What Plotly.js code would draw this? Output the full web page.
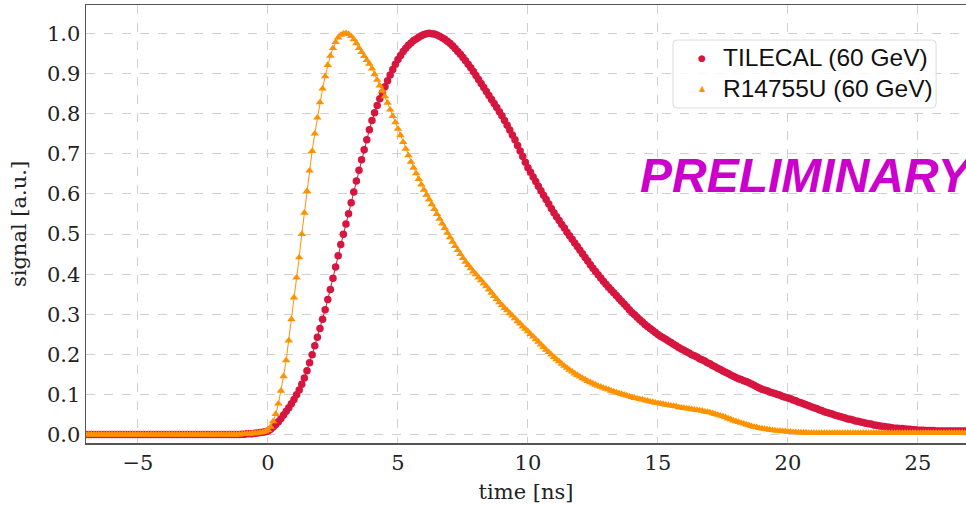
<!DOCTYPE html>
<html>
<head>
<meta charset="utf-8">
<script src="https://cdn.plot.ly/plotly-3.0.1.min.js"></script>
<style>
html,body{margin:0;padding:0;background:#fff;}
#chart{width:966px;height:505px;}
</style>
</head>
<body>
<div id="chart"></div>
<script>
// sampling times [ns]
const time = [
-7.0,-6.9,-6.8,-6.7,-6.6,-6.5,-6.4,-6.3,-6.2,-6.1,
-6.0,-5.9,-5.8,-5.7,-5.6,-5.5,-5.4,-5.3,-5.2,-5.1,
-5.0,-4.9,-4.8,-4.7,-4.6,-4.5,-4.4,-4.3,-4.2,-4.1,
-4.0,-3.9,-3.8,-3.7,-3.6,-3.5,-3.4,-3.3,-3.2,-3.1,
-3.0,-2.9,-2.8,-2.7,-2.6,-2.5,-2.4,-2.3,-2.2,-2.1,
-2.0,-1.9,-1.8,-1.7,-1.6,-1.5,-1.4,-1.3,-1.2,-1.1,
-1.0,-0.9,-0.8,-0.7,-0.6,-0.5,-0.4,-0.3,-0.2,-0.1,
0.0,0.1,0.2,0.3,0.4,0.5,0.6,0.7,0.8,0.9,
1.0,1.1,1.2,1.3,1.4,1.5,1.6,1.7,1.8,1.9,
2.0,2.1,2.2,2.3,2.4,2.5,2.6,2.7,2.8,2.9,
3.0,3.1,3.2,3.3,3.4,3.5,3.6,3.7,3.8,3.9,
4.0,4.1,4.2,4.3,4.4,4.5,4.6,4.7,4.8,4.9,
5.0,5.1,5.2,5.3,5.4,5.5,5.6,5.7,5.8,5.9,
6.0,6.1,6.2,6.3,6.4,6.5,6.6,6.7,6.8,6.9,
7.0,7.1,7.2,7.3,7.4,7.5,7.6,7.7,7.8,7.9,
8.0,8.1,8.2,8.3,8.4,8.5,8.6,8.7,8.8,8.9,
9.0,9.1,9.2,9.3,9.4,9.5,9.6,9.7,9.8,9.9,
10.0,10.1,10.2,10.3,10.4,10.5,10.6,10.7,10.8,10.9,
11.0,11.1,11.2,11.3,11.4,11.5,11.6,11.7,11.8,11.9,
12.0,12.1,12.2,12.3,12.4,12.5,12.6,12.7,12.8,12.9,
13.0,13.1,13.2,13.3,13.4,13.5,13.6,13.7,13.8,13.9,
14.0,14.1,14.2,14.3,14.4,14.5,14.6,14.7,14.8,14.9,
15.0,15.1,15.2,15.3,15.4,15.5,15.6,15.7,15.8,15.9,
16.0,16.1,16.2,16.3,16.4,16.5,16.6,16.7,16.8,16.9,
17.0,17.1,17.2,17.3,17.4,17.5,17.6,17.7,17.8,17.9,
18.0,18.1,18.2,18.3,18.4,18.5,18.6,18.7,18.8,18.9,
19.0,19.1,19.2,19.3,19.4,19.5,19.6,19.7,19.8,19.9,
20.0,20.1,20.2,20.3,20.4,20.5,20.6,20.7,20.8,20.9,
21.0,21.1,21.2,21.3,21.4,21.5,21.6,21.7,21.8,21.9,
22.0,22.1,22.2,22.3,22.4,22.5,22.6,22.7,22.8,22.9,
23.0,23.1,23.2,23.3,23.4,23.5,23.6,23.7,23.8,23.9,
24.0,24.1,24.2,24.3,24.4,24.5,24.6,24.7,24.8,24.9,
25.0,25.1,25.2,25.3,25.4,25.5,25.6,25.7,25.8,25.9,
26.0,26.1,26.2,26.3,26.4,26.5,26.6,26.7,26.8,26.9,
27.0
];

// TILECAL (60 GeV) normalised signal
const tilecal = [
0.001,0.001,0.001,0.001,0.001,0.001,0.001,0.001,0.001,0.001,
0.001,0.001,0.001,0.001,0.001,0.001,0.001,0.001,0.001,0.001,
0.001,0.001,0.001,0.001,0.001,0.001,0.001,0.001,0.001,0.001,
0.001,0.001,0.001,0.001,0.001,0.001,0.001,0.001,0.001,0.001,
0.001,0.001,0.001,0.001,0.001,0.001,0.001,0.001,0.001,0.001,
0.001,0.001,0.001,0.001,0.001,0.001,0.001,0.001,0.001,0.001,
0.002,0.002,0.003,0.003,0.003,0.004,0.005,0.006,0.007,0.008,
0.01,0.014,0.02,0.026,0.033,0.041,0.05,0.059,0.068,0.078,
0.088,0.1,0.112,0.126,0.142,0.16,0.18,0.2,0.222,0.243,
0.265,0.288,0.312,0.337,0.362,0.39,0.418,0.446,0.474,0.5,
0.525,0.551,0.578,0.605,0.632,0.659,0.685,0.71,0.735,0.76,
0.783,0.802,0.82,0.837,0.852,0.867,0.882,0.896,0.91,0.923,
0.935,0.945,0.955,0.963,0.97,0.976,0.982,0.986,0.99,0.994,
0.997,0.999,1.0,0.999,0.998,0.996,0.993,0.989,0.985,0.98,
0.975,0.969,0.962,0.955,0.948,0.94,0.932,0.923,0.914,0.905,
0.895,0.885,0.875,0.865,0.855,0.845,0.835,0.825,0.815,0.805,
0.795,0.783,0.771,0.759,0.747,0.735,0.721,0.707,0.693,0.679,
0.665,0.654,0.642,0.631,0.619,0.608,0.597,0.586,0.575,0.564,
0.553,0.543,0.534,0.524,0.515,0.505,0.496,0.487,0.478,0.469,
0.46,0.451,0.442,0.433,0.424,0.415,0.407,0.399,0.391,0.383,
0.375,0.368,0.361,0.354,0.347,0.34,0.333,0.326,0.319,0.312,
0.305,0.299,0.293,0.287,0.281,0.275,0.27,0.265,0.26,0.255,
0.25,0.246,0.242,0.238,0.234,0.23,0.226,0.222,0.218,0.214,
0.211,0.207,0.204,0.2,0.197,0.194,0.19,0.187,0.184,0.18,
0.177,0.173,0.17,0.166,0.163,0.159,0.156,0.153,0.149,0.146,
0.143,0.14,0.138,0.135,0.133,0.13,0.127,0.124,0.12,0.117,
0.114,0.112,0.11,0.107,0.105,0.103,0.101,0.099,0.096,0.094,
0.092,0.09,0.087,0.085,0.082,0.08,0.078,0.075,0.073,0.07,
0.068,0.066,0.063,0.061,0.058,0.056,0.054,0.052,0.05,0.048,
0.046,0.044,0.042,0.04,0.039,0.037,0.035,0.034,0.032,0.031,
0.029,0.028,0.027,0.025,0.024,0.023,0.022,0.021,0.02,0.019,
0.018,0.017,0.017,0.016,0.016,0.015,0.014,0.014,0.013,0.013,
0.012,0.012,0.012,0.011,0.011,0.011,0.011,0.01,0.01,0.01,
0.01,0.01,0.01,0.01,0.01,0.01,0.01,0.01,0.01,0.01,
0.01
];

// R14755U (60 GeV) normalised signal
const r14755u = [
0.001,0.001,0.001,0.001,0.001,0.001,0.001,0.001,0.001,0.001,
0.001,0.001,0.001,0.001,0.001,0.001,0.001,0.001,0.001,0.001,
0.001,0.001,0.001,0.001,0.001,0.001,0.001,0.001,0.001,0.001,
0.001,0.001,0.001,0.001,0.001,0.001,0.001,0.001,0.001,0.001,
0.001,0.001,0.001,0.001,0.001,0.001,0.001,0.001,0.001,0.001,
0.001,0.001,0.001,0.001,0.001,0.001,0.001,0.001,0.001,0.001,
0.002,0.002,0.003,0.003,0.004,0.004,0.005,0.006,0.007,0.009,
0.012,0.02,0.034,0.052,0.078,0.11,0.146,0.186,0.235,0.288,
0.342,0.392,0.442,0.5,0.553,0.607,0.658,0.707,0.75,0.79,
0.828,0.862,0.893,0.921,0.944,0.963,0.978,0.989,0.996,0.999,
1.0,0.998,0.993,0.985,0.975,0.963,0.953,0.943,0.933,0.924,
0.912,0.898,0.884,0.87,0.857,0.843,0.827,0.81,0.794,0.778,
0.762,0.746,0.729,0.712,0.696,0.68,0.665,0.651,0.637,0.623,
0.61,0.598,0.586,0.574,0.562,0.55,0.538,0.526,0.515,0.503,
0.492,0.481,0.47,0.46,0.45,0.44,0.431,0.423,0.415,0.407,
0.4,0.392,0.385,0.377,0.37,0.362,0.354,0.346,0.338,0.33,
0.323,0.316,0.31,0.303,0.297,0.29,0.283,0.277,0.27,0.264,
0.258,0.251,0.245,0.238,0.232,0.225,0.219,0.212,0.206,0.2,
0.194,0.188,0.183,0.177,0.172,0.167,0.162,0.158,0.153,0.149,
0.145,0.141,0.138,0.134,0.131,0.128,0.125,0.122,0.12,0.117,
0.115,0.113,0.11,0.108,0.106,0.104,0.102,0.1,0.098,0.096,
0.094,0.092,0.091,0.089,0.088,0.086,0.085,0.083,0.082,0.08,
0.079,0.078,0.077,0.075,0.074,0.073,0.072,0.071,0.069,0.068,
0.067,0.066,0.065,0.064,0.063,0.062,0.061,0.06,0.058,0.057,
0.056,0.054,0.052,0.05,0.048,0.046,0.044,0.041,0.039,0.036,
0.034,0.032,0.03,0.028,0.026,0.024,0.022,0.02,0.019,0.017,
0.016,0.015,0.014,0.013,0.012,0.011,0.01,0.01,0.009,0.009,
0.008,0.008,0.007,0.007,0.006,0.006,0.006,0.006,0.005,0.005,
0.005,0.005,0.005,0.005,0.005,0.005,0.005,0.005,0.005,0.005,
0.005,0.005,0.005,0.005,0.005,0.005,0.005,0.005,0.005,0.005,
0.005,0.005,0.005,0.005,0.005,0.005,0.005,0.005,0.005,0.005,
0.005,0.005,0.005,0.005,0.005,0.005,0.005,0.005,0.005,0.005,
0.005,0.005,0.005,0.005,0.005,0.005,0.005,0.005,0.005,0.005,
0.005,0.005,0.005,0.005,0.005,0.005,0.005,0.005,0.005,0.005,
0.005
];

const seriesNames = ['TILECAL (60 GeV)', 'R14755U (60 GeV)'];
const xTicks = [-5, 0, 5, 10, 15, 20, 25];
const yTicks = [0.0, 0.1, 0.2, 0.3, 0.4, 0.5, 0.6, 0.7, 0.8, 0.9, 1.0];
const watermark = 'PRELIMINARY';

const RED = '#d6163f';
const ORANGE = '#ff9200';

const traces = [
  {x: time, y: tilecal, type: 'scatter', mode: 'lines+markers', name: seriesNames[0], showlegend: false,
   line: {color: RED, width: 1}, marker: {color: RED, size: 7.5, symbol: 'circle'}},
  {x: time, y: r14755u, type: 'scatter', mode: 'lines+markers', name: seriesNames[1], showlegend: false,
   line: {color: ORANGE, width: 1}, marker: {color: ORANGE, size: 7.5, symbol: 'triangle-up'}}
];

// legend box (paper coordinates), drawn as a rounded rectangle
const lx0 = 0.667, lx1 = 0.966, ly0 = 0.765, ly1 = 0.920;
const rx = 4 / 880, ry = 4 / 438;
const legendPath =
  'M ' + (lx0 + rx) + ',' + ly1 + ' L ' + (lx1 - rx) + ',' + ly1 +
  ' Q ' + lx1 + ',' + ly1 + ' ' + lx1 + ',' + (ly1 - ry) +
  ' L ' + lx1 + ',' + (ly0 + ry) +
  ' Q ' + lx1 + ',' + ly0 + ' ' + (lx1 - rx) + ',' + ly0 +
  ' L ' + (lx0 + rx) + ',' + ly0 +
  ' Q ' + lx0 + ',' + ly0 + ' ' + lx0 + ',' + (ly0 + ry) +
  ' L ' + lx0 + ',' + (ly1 - ry) +
  ' Q ' + lx0 + ',' + ly1 + ' ' + (lx0 + rx) + ',' + ly1 + ' Z';

const sans = 'Liberation Sans, Arial, sans-serif';
const serif = 'DejaVu Serif, serif';
const rowY = [0.879, 0.8105];
const layout = {
  width: 966, height: 505,
  margin: {l: 86, r: 0, t: 5, b: 62, pad: 0},
  paper_bgcolor: '#fff', plot_bgcolor: '#fff',
  showlegend: false,
  xaxis: {
    range: [-7.0, 26.85], tickvals: xTicks, ticks: '',
    showgrid: true, gridcolor: '#d0d0d0', griddash: 'dash', gridwidth: 1,
    zeroline: false, showline: true, linecolor: '#555', linewidth: 1.5, mirror: true,
    tickfont: {family: serif, size: 21, color: '#222'},
    title: {text: 'time [ns]', font: {family: serif, size: 21, color: '#222'}, standoff: 10}
  },
  yaxis: {
    range: [-0.02, 1.0705], tickvals: yTicks, tickformat: '.1f', ticks: '',
    showgrid: true, gridcolor: '#d0d0d0', griddash: 'dash', gridwidth: 1,
    zeroline: false, showline: true, linecolor: '#555', linewidth: 1.5,
    tickfont: {family: serif, size: 21, color: '#222'},
    title: {text: 'signal [a.u.]', font: {family: serif, size: 21, color: '#222'}, standoff: 14}
  },
  shapes: [{
    type: 'path', xref: 'paper', yref: 'paper', path: legendPath,
    fillcolor: 'rgba(255,255,255,0.85)', line: {color: '#dcdcdc', width: 1}, layer: 'above'
  }],
  annotations: [
    {text: seriesNames[0], xref: 'paper', yref: 'paper', x: 0.722, y: rowY[0],
     xanchor: 'left', yanchor: 'middle', showarrow: false,
     font: {family: sans, size: 24.5, color: '#111'}},
    {text: seriesNames[1], xref: 'paper', yref: 'paper', x: 0.722, y: rowY[1],
     xanchor: 'left', yanchor: 'middle', showarrow: false,
     font: {family: sans, size: 24.5, color: '#111'}},
    {text: '●', xref: 'paper', yref: 'paper', x: 0.7, y: rowY[0],
     xanchor: 'center', yanchor: 'middle', showarrow: false,
     font: {family: 'DejaVu Sans', size: 9, color: RED}},
    {text: '▲', xref: 'paper', yref: 'paper', x: 0.7, y: rowY[1],
     xanchor: 'center', yanchor: 'middle', showarrow: false,
     font: {family: 'DejaVu Sans', size: 8, color: ORANGE}},
    {text: '<b><i>' + watermark + '</i></b>', xref: 'paper', yref: 'paper',
     x: 0.627, y: 0.61, xanchor: 'left', yanchor: 'middle', showarrow: false,
     font: {family: sans, size: 48, color: '#cc00cc'}}
  ]
};

Plotly.newPlot('chart', traces, layout, {staticPlot: true, displayModeBar: false});
</script>
</body>
</html>
